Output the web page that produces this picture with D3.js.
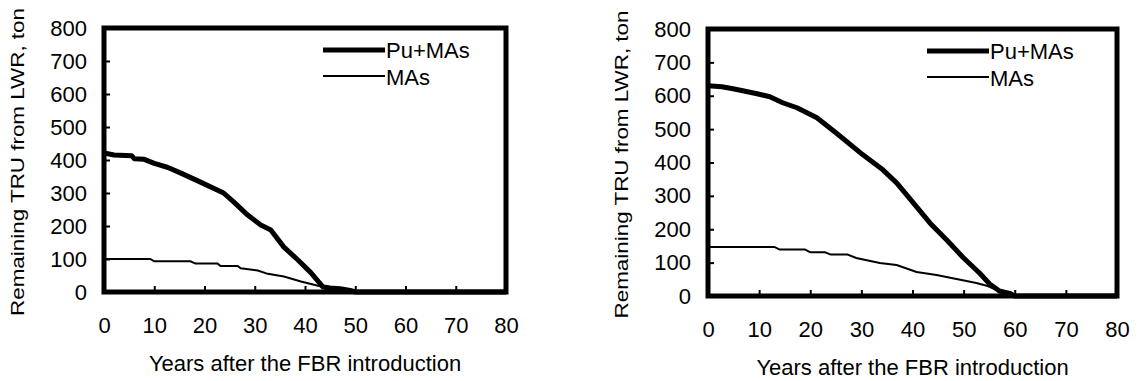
<!DOCTYPE html>
<html>
<head>
<meta charset="utf-8">
<script src="https://cdn.jsdelivr.net/npm/d3@7"></script>
<style>
  body { margin: 0; background: #fff; }
  svg { display: block; font-family: "Liberation Sans", Arial, sans-serif; }
  .axis path { display: none; }
  .axis line { stroke: #000; stroke-width: 2; }
  .axis text { font-size: 22px; fill: #000; }
</style>
</head>
<body>
<svg id="chart" width="1138" height="381"></svg>
<script>
// data (years after FBR introduction, tons)
const xTicks = [0, 10, 20, 30, 40, 50, 60, 70, 80];
const yTicks = [0, 100, 200, 300, 400, 500, 600, 700, 800];
const seriesNames = ["Pu+MAs", "MAs"];

const leftPuYears = [0, 2, 5.5, 6, 8, 10, 12.6, 15.2, 19.2, 23.8, 25.8, 28.6, 31.2, 33.2, 35.8, 38.6, 41.2, 43.6, 45, 47, 49, 50, 80];
const leftPuValues = [421, 415, 413, 404, 402, 390, 378, 361, 333, 300, 273, 233, 203, 188, 136, 97, 58, 15, 12, 10, 5, 0, 0];
const leftMaYears = [0, 9.2, 10, 17.2, 18.2, 22.6, 23.2, 26.6, 27.2, 30.6, 32.6, 35.8, 39.2, 41.8, 43.6, 46, 48, 50, 80];
const leftMaValues = [100, 100, 93, 93, 86, 86, 79, 79, 72, 65, 55, 47, 32, 22, 15, 10, 5, 0, 0];

const rightPuYears = [0, 2.7, 4.9, 6.8, 9.6, 12.1, 14.6, 17.4, 21.3, 25.2, 30.3, 34.2, 36.9, 40, 43.4, 46.7, 49.8, 53.1, 55.1, 57, 59, 60, 80];
const rightPuValues = [630, 627, 621, 615, 606, 597, 579, 564, 534, 487, 423, 378, 339, 282, 219, 168, 117, 69, 36, 15, 8, 0, 0];
const rightMaYears = [0, 13, 14, 19, 20, 22.9, 24, 27.3, 29, 33.6, 36.9, 40.8, 44.7, 48.6, 52.5, 54.7, 57, 59, 60, 80];
const rightMaValues = [147, 147, 139, 139, 131, 131, 124, 124, 114, 99, 93, 72, 63, 51, 39, 30, 15, 8, 0, 0];

const svg = d3.select("#chart");

function toPoints(xs, ys) {
  return xs.map((d, i) => ({ x: d, y: ys[i] }));
}

function drawPanel(p) {
  const x = d3.scaleLinear().domain([0, 80]).range([p.left, p.right]);
  const y = d3.scaleLinear().domain([0, 800]).range([p.bottom, p.top]);
  const g = svg.append("g");

  // lines
  const line = d3.line().x(d => x(d.x)).y(d => y(d.y));
  g.append("path")
    .datum(toPoints(p.maYears, p.maValues))
    .attr("d", line)
    .attr("fill", "none").attr("stroke", "#000").attr("stroke-width", 2);
  g.append("path")
    .datum(toPoints(p.puYears, p.puValues))
    .attr("d", line)
    .attr("fill", "none").attr("stroke", "#000").attr("stroke-width", 5)
    .attr("stroke-linejoin", "round");

  // axes, ticks pointing inward
  g.append("g")
    .attr("class", "axis")
    .attr("transform", `translate(0,${p.bottom})`)
    .call(d3.axisBottom(x).tickValues(xTicks).tickSizeInner(-6).tickSizeOuter(0).tickPadding(25));
  g.append("g")
    .attr("class", "axis")
    .attr("transform", `translate(${p.left},0)`)
    .call(d3.axisLeft(y).tickValues(yTicks).tickSizeInner(-6).tickSizeOuter(0).tickPadding(17));

  // frame
  g.append("rect")
    .attr("x", p.left).attr("y", p.top)
    .attr("width", p.right - p.left).attr("height", p.bottom - p.top)
    .attr("fill", "none").attr("stroke", "#000").attr("stroke-width", 5);

  // titles
  g.append("text")
    .attr("x", (p.left + p.right) / 2).attr("y", p.bottom + 79)
    .attr("text-anchor", "middle").attr("font-size", 22)
    .text("Years after the FBR introduction");
  g.append("text")
    .attr("transform", `translate(${p.left - 80},${(p.top + p.bottom) / 2 + 2}) rotate(-90)`)
    .attr("text-anchor", "middle").attr("font-size", 18)
    .attr("textLength", 308).attr("lengthAdjust", "spacingAndGlyphs")
    .text("Remaining TRU from LWR, ton");

  // legend
  const lg = g.append("g").attr("transform", `translate(${p.legendX},${p.top})`);
  seriesNames.forEach((name, i) => {
    lg.append("line")
      .attr("x1", 0).attr("x2", 62)
      .attr("y1", 22 + i * 26).attr("y2", 22 + i * 26)
      .attr("stroke", "#000").attr("stroke-width", i === 0 ? 5 : 2);
    lg.append("text")
      .attr("x", 63).attr("y", 30 + i * 27)
      .attr("font-size", 22)
      .text(name);
  });
}

drawPanel({
  left: 104, right: 506, top: 28, bottom: 292, legendX: 323,
  puYears: leftPuYears, puValues: leftPuValues,
  maYears: leftMaYears, maValues: leftMaValues
});
drawPanel({
  left: 708, right: 1117, top: 29, bottom: 296, legendX: 927,
  puYears: rightPuYears, puValues: rightPuValues,
  maYears: rightMaYears, maValues: rightMaValues
});
</script>
</body>
</html>
